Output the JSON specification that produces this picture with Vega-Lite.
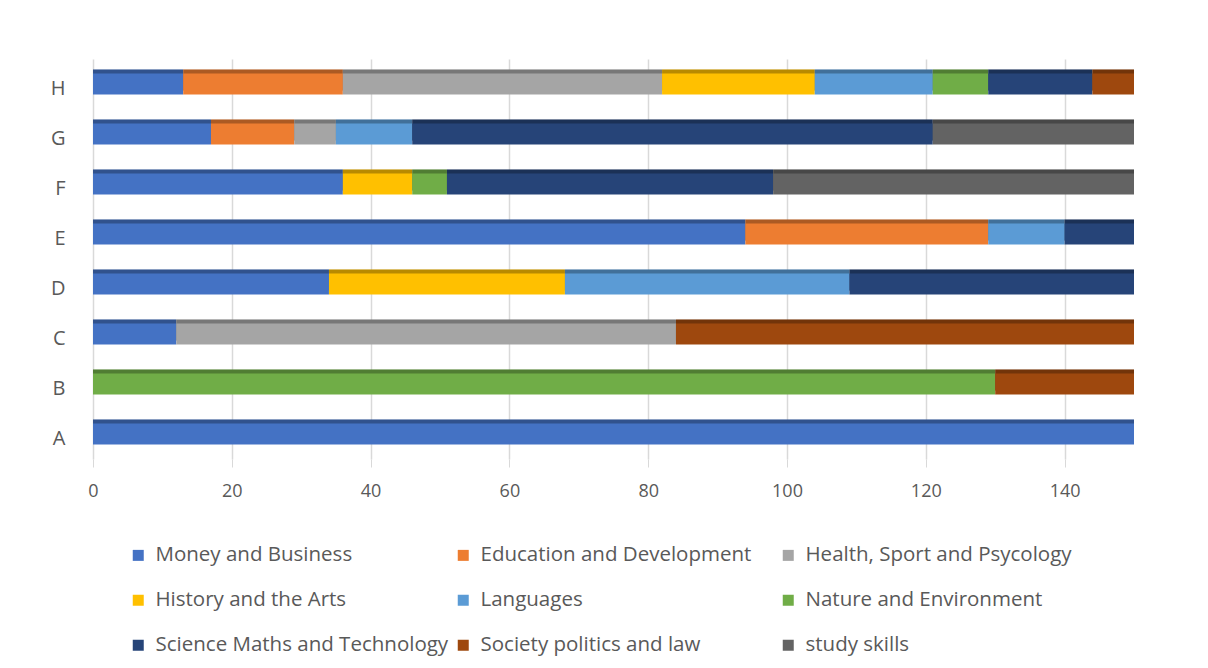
{
  "$schema": "https://vega.github.io/schema/vega-lite/v6.json",
  "width": 1041,
  "height": 400,
  "autosize": "none",
  "padding": {"left": 93, "top": 59, "right": 74, "bottom": 209},
  "background": "white",
  "config": {"view": {"stroke": null}, "font": "Open Sans"},
  "data": {"values": [
    {"cat": "A", "series": "Money and Business", "k": 1, "v": 150},
    {"cat": "B", "series": "Nature and Environment", "k": 6, "v": 130},
    {"cat": "B", "series": "Society politics and law", "k": 8, "v": 20},
    {"cat": "C", "series": "Money and Business", "k": 1, "v": 12},
    {"cat": "C", "series": "Health, Sport and Psycology", "k": 3, "v": 72},
    {"cat": "C", "series": "Society politics and law", "k": 8, "v": 66},
    {"cat": "D", "series": "Money and Business", "k": 1, "v": 34},
    {"cat": "D", "series": "History and the Arts", "k": 4, "v": 34},
    {"cat": "D", "series": "Languages", "k": 5, "v": 41},
    {"cat": "D", "series": "Science Maths and Technology", "k": 7, "v": 41},
    {"cat": "E", "series": "Money and Business", "k": 1, "v": 94},
    {"cat": "E", "series": "Education and Development", "k": 2, "v": 35},
    {"cat": "E", "series": "Languages", "k": 5, "v": 11},
    {"cat": "E", "series": "Science Maths and Technology", "k": 7, "v": 10},
    {"cat": "F", "series": "Money and Business", "k": 1, "v": 36},
    {"cat": "F", "series": "History and the Arts", "k": 4, "v": 10},
    {"cat": "F", "series": "Nature and Environment", "k": 6, "v": 5},
    {"cat": "F", "series": "Science Maths and Technology", "k": 7, "v": 47},
    {"cat": "F", "series": "study skills", "k": 9, "v": 52},
    {"cat": "G", "series": "Money and Business", "k": 1, "v": 17},
    {"cat": "G", "series": "Education and Development", "k": 2, "v": 12},
    {"cat": "G", "series": "Health, Sport and Psycology", "k": 3, "v": 6},
    {"cat": "G", "series": "Languages", "k": 5, "v": 11},
    {"cat": "G", "series": "Science Maths and Technology", "k": 7, "v": 75},
    {"cat": "G", "series": "study skills", "k": 9, "v": 29},
    {"cat": "H", "series": "Money and Business", "k": 1, "v": 13},
    {"cat": "H", "series": "Education and Development", "k": 2, "v": 23},
    {"cat": "H", "series": "Health, Sport and Psycology", "k": 3, "v": 46},
    {"cat": "H", "series": "History and the Arts", "k": 4, "v": 22},
    {"cat": "H", "series": "Languages", "k": 5, "v": 17},
    {"cat": "H", "series": "Nature and Environment", "k": 6, "v": 8},
    {"cat": "H", "series": "Science Maths and Technology", "k": 7, "v": 15},
    {"cat": "H", "series": "Society politics and law", "k": 8, "v": 6}
  ]},
  "encoding": {
    "y": {
      "field": "cat", "type": "nominal", "sort": "descending",
      "scale": {"paddingInner": 0.58, "paddingOuter": 0.29},
      "axis": {"title": null, "domain": false, "ticks": false, "labelPadding": 28, "labelOffset": 5, "labelFontSize": 20, "labelColor": "#595959"}
    },
    "x": {
      "field": "v", "type": "quantitative", "stack": "zero",
      "scale": {"domain": [0, 150], "nice": false},
      "axis": {"title": null, "values": [0, 20, 40, 60, 80, 100, 120, 140], "domain": false, "grid": true, "gridColor": "#D9D9D9", "gridWidth": 1.5, "tickColor": "#D9D9D9", "tickSize": 8, "labelPadding": 15, "labelFlush": false, "labelFontSize": 18, "labelColor": "#595959"}
    },
    "detail": {"field": "series"},
    "order": {"field": "k", "type": "quantitative"}
  },
  "layer": [
    {
      "mark": {"type": "bar", "yOffset": -4},
      "encoding": {
        "color": {
          "field": "series", "type": "nominal",
          "scale": {
            "domain": ["Money and Business", "Education and Development", "Health, Sport and Psycology", "History and the Arts", "Languages", "Nature and Environment", "Science Maths and Technology", "Society politics and law", "study skills"],
            "range": ["#4472C4", "#ED7D31", "#A5A5A5", "#FFC000", "#5B9BD5", "#70AD47", "#264478", "#9E480E", "#636363"]
          },
          "legend": {"title": null, "orient": "none", "direction": "horizontal", "legendX": 35, "legendY": 486, "columns": 3, "gridAlign": "all", "symbolType": "square", "symbolSize": 121, "symbolStrokeWidth": 0, "labelFontSize": 20.5, "labelColor": "#595959", "labelOffset": 7, "rowPadding": 24, "columnPadding": 4, "labelLimit": 400}
        }
      }
    },
    {
      "mark": {"type": "bar", "yOffset": -4, "color": "#000000", "fillOpacity": 0.28}
    },
    {
      "mark": {"type": "bar"},
      "encoding": {
        "color": {"field": "series", "type": "nominal"}
      }
    }
  ]
}
